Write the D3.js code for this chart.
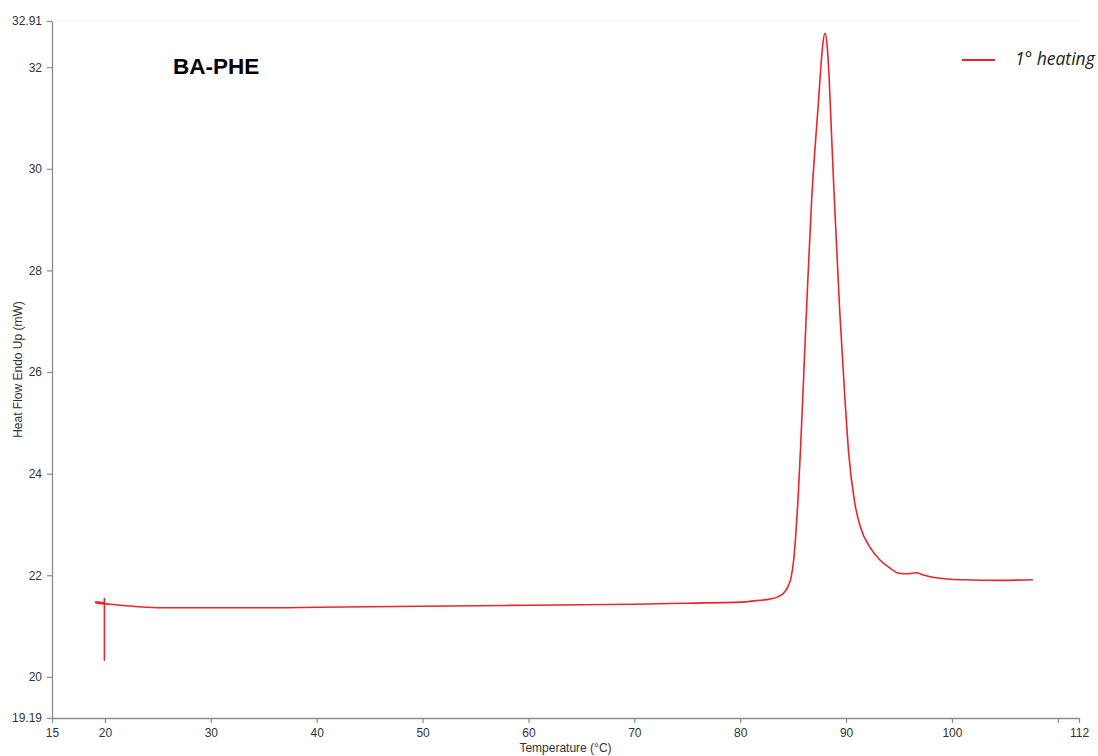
<!DOCTYPE html>
<html>
<head>
<meta charset="utf-8">
<script src="https://cdn.jsdelivr.net/npm/d3@7/dist/d3.min.js"></script>
<style>
  html, body { margin: 0; padding: 0; background: #ffffff; }
  svg { display: block; }
</style>
</head>
<body>
<svg id="chart" width="1098" height="756"></svg>
<script>
// ---- Data ----
const chartTitle = "BA-PHE";
const seriesName = "1° heating";
const xLabel = "Temperature (°C)";
const yLabel = "Heat Flow Endo Up (mW)";

const xTickValues = [15, 20, 30, 40, 50, 60, 70, 80, 90, 100, 110, 112];
const xTickLabels = ["15", "20", "30", "40", "50", "60", "70", "80", "90", "100", "", "112"];
const yTickValues = [19.19, 20, 22, 24, 26, 28, 30, 32, 32.91];
const yTickLabels = ["19.19", "20", "22", "24", "26", "28", "30", "32", "32.91"];

// start-up transient (drawn as straight segments)
const startTemperature = [19.95, 19.95, 19.95, 19.5, 19.06];
const startHeatFlow   = [21.55, 20.33, 21.46, 21.47, 21.47];

// main heating curve
const temperature = [
  19.06, 19.3, 20.5, 22.0, 24.0, 26.0, 30.0, 35.0, 40.0, 50.0, 60.0, 70.0, 75.0, 80.0,
  81.5, 82.8, 83.6, 84.2, 84.5, 84.8, 85.05, 85.25, 85.45, 85.7, 85.9, 86.3, 86.75, 87.1,
  87.35, 87.6, 87.8, 88.01, 88.2, 88.4, 88.6, 88.85, 89.1, 89.4, 89.9, 90.25, 90.8,
  91.4, 92.2, 93.2, 94.15, 95.0, 95.85, 96.6, 97.4, 98.5, 99.8, 101.1, 104.5, 107.65
];
const heatFlow = [
  21.47, 21.45, 21.43, 21.40, 21.37, 21.36, 21.36, 21.36, 21.37, 21.39, 21.41, 21.43, 21.45, 21.47,
  21.50, 21.53, 21.58, 21.67, 21.77, 21.95, 22.30, 22.80, 23.45, 24.50, 25.45, 27.40, 29.40, 30.50,
  31.20, 31.95, 32.45, 32.67, 32.45, 31.80, 30.80, 29.60, 28.50, 27.20, 25.45, 24.40, 23.45,
  22.92, 22.57, 22.30, 22.14, 22.04, 22.03, 22.05, 22.00, 21.95, 21.92, 21.91, 21.90, 21.91
];

// ---- Layout ----
const svg = d3.select("#chart");
const mLeft = 52, mRight = 1079, mTop = 21, mBottom = 718;
const font = "'Liberation Sans', Arial, sans-serif";
const red = "#e8262b";

const x = d3.scaleLinear().domain([15, 112]).range([mLeft, mRight]);
const y = d3.scaleLinear().domain([19.19, 32.91]).range([mBottom, mTop]);

// faint top border
svg.append("line")
  .attr("x1", mLeft).attr("x2", mRight).attr("y1", mTop).attr("y2", mTop)
  .attr("stroke", "#f1f1f1").attr("stroke-width", 1);

// X axis
const xAxis = d3.axisBottom(x)
  .tickValues(xTickValues)
  .tickFormat((d, i) => xTickLabels[i])
  .tickSize(5).tickPadding(5).tickSizeOuter(0);
const gx = svg.append("g").attr("transform", `translate(0,${mBottom})`).call(xAxis);
gx.select(".domain").attr("stroke", "#8c8c8c").attr("stroke-width", 1.3);
gx.selectAll(".tick line").attr("stroke", "#8c8c8c").attr("stroke-width", 1.2);
gx.selectAll(".tick text").attr("font-family", font).attr("font-size", 12).attr("fill", "#333");

// Y axis
const yAxis = d3.axisLeft(y)
  .tickValues(yTickValues)
  .tickFormat((d, i) => yTickLabels[i])
  .tickSize(5).tickPadding(5).tickSizeOuter(0);
const gy = svg.append("g").attr("transform", `translate(${mLeft},0)`).call(yAxis);
gy.select(".domain").attr("stroke", "#8c8c8c").attr("stroke-width", 1.3);
gy.selectAll(".tick line").attr("stroke", "#8c8c8c").attr("stroke-width", 1.2);
gy.selectAll(".tick text").attr("font-family", font).attr("font-size", 12).attr("fill", "#333");

// Axis titles
svg.append("text")
  .attr("x", (mLeft + mRight) / 2).attr("y", 752)
  .attr("text-anchor", "middle")
  .attr("font-family", font).attr("font-size", 12).attr("fill", "#333")
  .text(xLabel);
svg.append("text")
  .attr("transform", `translate(22,${(mTop + mBottom) / 2}) rotate(-90)`)
  .attr("text-anchor", "middle")
  .attr("font-family", font).attr("font-size", 12).attr("fill", "#333")
  .text(yLabel);

// Chart title
svg.append("text")
  .attr("x", 173).attr("y", 74)
  .attr("font-family", font).attr("font-size", 22.5).attr("font-weight", "bold").attr("fill", "#000")
  .text(chartTitle);

// Start transient
const startPts = startTemperature.map((t, i) => [t, startHeatFlow[i]]);
svg.append("path")
  .datum(startPts)
  .attr("d", d3.line().x(d => x(d[0])).y(d => y(d[1])))
  .attr("fill", "none")
  .attr("stroke", red)
  .attr("stroke-width", 1.6)
  .attr("stroke-linejoin", "round");

// Main curve
const pts = temperature.map((t, i) => [t, heatFlow[i]]);
svg.append("path")
  .datum(pts)
  .attr("d", d3.line().x(d => x(d[0])).y(d => y(d[1])).curve(d3.curveMonotoneX))
  .attr("fill", "none")
  .attr("stroke", red)
  .attr("stroke-width", 1.6)
  .attr("stroke-linejoin", "round");

// Legend
const lg = svg.append("g");
lg.append("line")
  .attr("x1", 962).attr("x2", 995).attr("y1", 60).attr("y2", 60)
  .attr("stroke", red).attr("stroke-width", 2);
lg.append("text")
  .attr("x", 1015).attr("y", 65)
  .attr("font-family", "'Open Sans', 'Noto Sans', sans-serif").attr("font-size", 17.5)
  .attr("font-style", "italic").attr("fill", "#222")
  .text(seriesName);
</script>
</body>
</html>
